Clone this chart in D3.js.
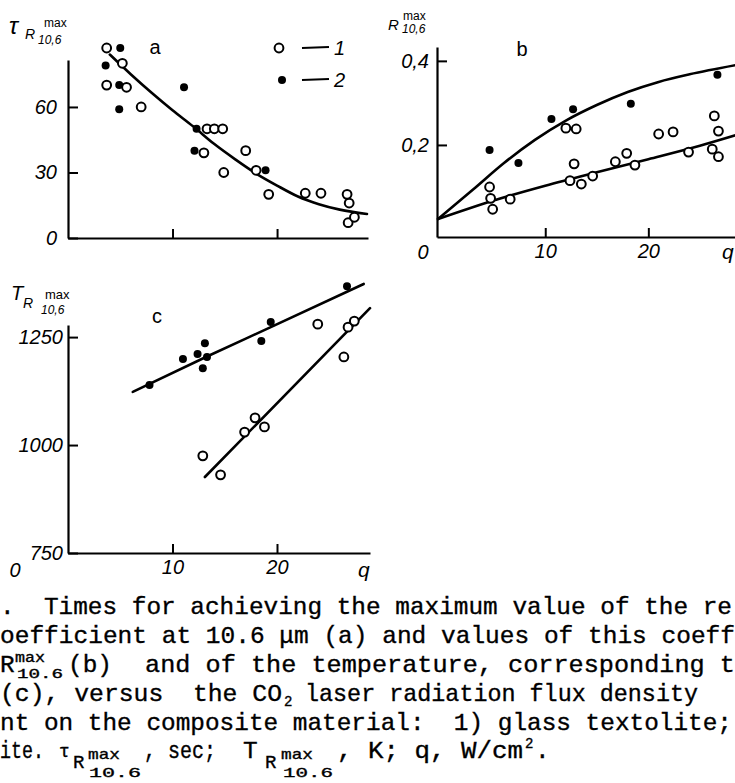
<!DOCTYPE html>
<html>
<head>
<meta charset="utf-8">
<script src="https://cdn.jsdelivr.net/npm/d3@7"></script>
<style>
body { margin: 0; background: #fff; }
svg { display: block; }
.tk text { font-family: "Liberation Sans", Arial, sans-serif; font-style: italic; font-size: 20px; fill: #000; }
.lbl { font-family: "Liberation Sans", Arial, sans-serif; fill: #000; }
.cap { font-family: "Liberation Mono", monospace; fill: #000; stroke: #000; stroke-width: 0.35px; }
</style>
</head>
<body>
<div id="chartArea"></div>
<script>
// q axis (W/cm2) ticks shared by all panels
const qTicks = [10, 20];
const tauTicks = [0, 30, 60];
const rTicks = [0.2, 0.4];
const tTicks = [750, 1000, 1250];

// panel a: time to reach max reflectance, tau (sec) vs q
const tauGlass = [[3.7,87],[5.2,80],[3.7,70],[5.6,69],[7.0,60],[13.0,39],[13.3,50],[14.0,50],[14.8,50],
  [14.9,30],[17.0,40],[18.0,31],[19.2,20],[22.7,20.5],[24.2,20.5],[26.7,20],[26.9,16],[26.8,7],[27.4,9.5]];
const tauCarbon = [[5.0,87],[3.6,79],[4.9,70],[4.9,59],[11.1,69],[12.3,50],[12.1,40],[18.9,31]];
const tauFit = [[4,84],[6,75],[8,66.5],[10,58.5],[12,51],[14,43],[16,36],[18,29.5],[20,24],[22,19],[24,15.5],[26,13],[28.6,11]];

// panel b: max reflectance R vs q
const rGlass = [[12.0,0.24],[13.0,0.238],[12.8,0.155],[4.6,0.10],[4.7,0.073],[4.9,0.047],[6.6,0.071],[12.4,0.115],
  [13.5,0.107],[14.6,0.126],[16.8,0.16],[17.9,0.18],[18.7,0.152],[21.0,0.226],[22.4,0.231],[23.9,0.183],
  [26.4,0.269],[26.8,0.233],[26.2,0.19],[26.8,0.172]];
const rCarbon = [[4.6,0.188],[7.4,0.157],[10.6,0.262],[12.7,0.285],[18.3,0.298],[26.7,0.367]];
const rFitCarbon = [[-0.4,0.024],[3,0.094],[6,0.157],[9,0.212],[12,0.258],[15,0.295],[18,0.326],[21,0.35],[24,0.368],[28.5,0.39]];
const rFitGlass = [[-0.4,0.024],[5,0.068],[10,0.103],[15,0.135],[20,0.166],[25,0.198],[28.6,0.224]];

// panel c: temperature at max reflectance, T (K) vs q
const tGlass = [[12.9,975],[14.6,931],[16.9,1030],[17.9,1063],[18.8,1042],[23.9,1280],[26.4,1204],[26.8,1273],[27.4,1287]];
const tCarbon = [[7.8,1139],[11.0,1199],[12.4,1211],[13.1,1236],[13.3,1204],[12.9,1178],[18.5,1241],[19.4,1285],[26.7,1368]];
const tFitCarbon = [[6.2,1123],[13.3,1205],[19.3,1272],[28.3,1373]];
const tFitGlass = [[13.1,926],[28.9,1317]];

const svg = d3.select("#chartArea")
  .append("svg")
  .attr("width", 735)
  .attr("height", 783);

svg.append("rect").attr("width", 735).attr("height", 783).attr("fill", "#fff");

function panel(o) {
  const g = svg.append("g");
  const x = d3.scaleLinear().domain(o.xDom).range(o.xRange);
  const y = d3.scaleLinear().domain(o.yDom).range(o.yRange);

  const xa = g.append("g").attr("class", "tk")
    .attr("transform", `translate(0,${o.yRange[0]})`)
    .call(d3.axisBottom(x).tickValues(qTicks).tickSizeInner(-9).tickSizeOuter(0).tickPadding(7)
      .tickFormat(o.xLabels ? d3.format("d") : ""));
  const ya = g.append("g").attr("class", "tk")
    .attr("transform", `translate(${o.xRange[0]},0)`)
    .call(d3.axisLeft(y).tickValues(o.yTicks).tickSizeInner(-10).tickSizeOuter(0).tickPadding(o.pad)
      .tickFormat(o.yFmt));
  [xa, ya].forEach(a => {
    a.select(".domain").attr("stroke-width", 2.2);
    a.selectAll(".tick line").attr("stroke-width", 2);
  });

  const line = d3.line().x(d => x(d[0])).y(d => y(d[1])).curve(d3.curveMonotoneX);
  o.fits.forEach(f => {
    g.append("path").attr("d", line(f)).attr("fill", "none")
      .attr("stroke", "#000").attr("stroke-width", 2.6).attr("stroke-linecap", "round");
  });

  g.selectAll(".open").data(o.open).enter().append("circle")
    .attr("cx", d => x(d[0])).attr("cy", d => y(d[1])).attr("r", 4.4)
    .attr("fill", "#fff").attr("stroke", "#000").attr("stroke-width", 2);
  g.selectAll(".dot").data(o.filled).enter().append("circle")
    .attr("cx", d => x(d[0])).attr("cy", d => y(d[1])).attr("r", 4)
    .attr("fill", "#000");
  return { x, y, g };
}

// a
panel({
  xDom: [0, 28.7], xRange: [68, 368], yDom: [0, 81.5], yRange: [238, 60],
  yTicks: tauTicks, yFmt: d3.format("d"), pad: 11, xLabels: false,
  fits: [tauFit], open: tauGlass, filled: tauCarbon
});
// b
panel({
  xDom: [-0.5, 28.6], xRange: [437, 737], yDom: [-0.019, 0.433], yRange: [237, 47],
  yTicks: rTicks, yFmt: d => d3.format(".1f")(d).replace(".", ","), pad: 8, xLabels: true,
  fits: [rFitCarbon, rFitGlass], open: rGlass, filled: rCarbon
});
// c
panel({
  xDom: [0, 28.9], xRange: [68, 370], yDom: [750, 1278], yRange: [553, 325],
  yTicks: tTicks, yFmt: d3.format("d"), pad: 5, xLabels: true,
  fits: [tFitCarbon, tFitGlass], open: tGlass, filled: tCarbon
});

function txt(s, x, y, size, opt = {}) {
  return svg.append("text").attr("class", opt.cls || "lbl")
    .attr("x", x).attr("y", y)
    .style("font-size", size + "px")
    .style("font-style", opt.italic ? "italic" : "normal")
    .attr("text-anchor", opt.anchor || "start")
    .text(s);
}

// extra axis labels
txt("0", 423, 259, 20, { italic: true, anchor: "middle" });
txt("q", 722, 259, 21, { italic: true });
txt("0", 15, 577, 20, { italic: true, anchor: "middle" });
txt("q", 358, 577, 21, { italic: true });

// panel letters
txt("a", 155, 54, 20, { anchor: "middle" });
txt("b", 522, 56, 20, { anchor: "middle" });
txt("c", 157, 323, 20, { anchor: "middle" });

// y-axis titles
txt("τ", 9, 34, 24, { italic: true });
txt("R", 25, 39, 14, { italic: true });
txt("max", 44, 27, 12);
txt("10,6", 38, 44, 12, { italic: true });

txt("R", 388, 30, 15, { italic: true });
txt("max", 403, 20, 12);
txt("10,6", 402, 33, 12, { italic: true });

txt("T", 11, 300, 20, { italic: true });
txt("R", 23, 308, 14, { italic: true });
txt("max", 45, 299, 13);
txt("10,6", 41, 314, 12, { italic: true });

// legend
const lg = [[48, true, "1"], [80, false, "2"]];
lg.forEach(([ly, open, lab]) => {
  if (open) {
    svg.append("circle").attr("cx", 279).attr("cy", ly).attr("r", 4.4)
      .attr("fill", "#fff").attr("stroke", "#000").attr("stroke-width", 2);
  } else {
    svg.append("circle").attr("cx", 282).attr("cy", ly).attr("r", 4).attr("fill", "#000");
  }
  svg.append("line").attr("x1", 302).attr("x2", 329).attr("y1", ly).attr("y2", ly - 1)
    .attr("stroke", "#000").attr("stroke-width", 1.8);
  txt(lab, 334, ly + 7, 20, { italic: true });
});

// caption
function cap(s, x, y, size, len) {
  const t = txt(s, x, y, size, { cls: "cap" }).attr("xml:space", "preserve");
  if (len) t.attr("textLength", len).attr("lengthAdjust", "spacingAndGlyphs");
  return t;
}
const F = 24.4;
cap(".  Times for achieving the maximum value of the re", 0, 614, F, 732);
cap("oefficient at 10.6 μm (a) and values of this coeff", 0, 643, F, 735);
cap("R", 0, 672, F);
cap("max", 15, 662, 14, 30);
cap("10.6", 17, 678, 12, 46);
cap("(b)", 68, 672, F);
cap("and of the temperature, corresponding t", 145, 672, F, 590);
cap("(c), versus  the CO", 0, 701, F, 282);
cap("2", 284, 706, 14);
cap("laser radiation flux density", 305, 701, F, 393);
cap("nt on the composite material:  1) glass textolite;", 0, 730, F, 732);
cap("ite.", 0, 758, F, 44);
cap("τ", 59, 757, 18);
cap("R", 73, 768, 19);
cap("max", 88, 759, 15, 32);
cap("10.6", 89, 777, 13, 52);
cap(", sec;", 144, 758, F, 72);
cap("T", 243, 758, F);
cap("R", 265, 768, 19);
cap("max", 281, 759, 15, 32);
cap("10.6", 283, 777, 13, 50);
cap(", K; q, W/cm", 337, 758, F, 186);
cap("2", 525, 748, 14);
cap(".", 535, 758, F);
</script>
</body>
</html>
